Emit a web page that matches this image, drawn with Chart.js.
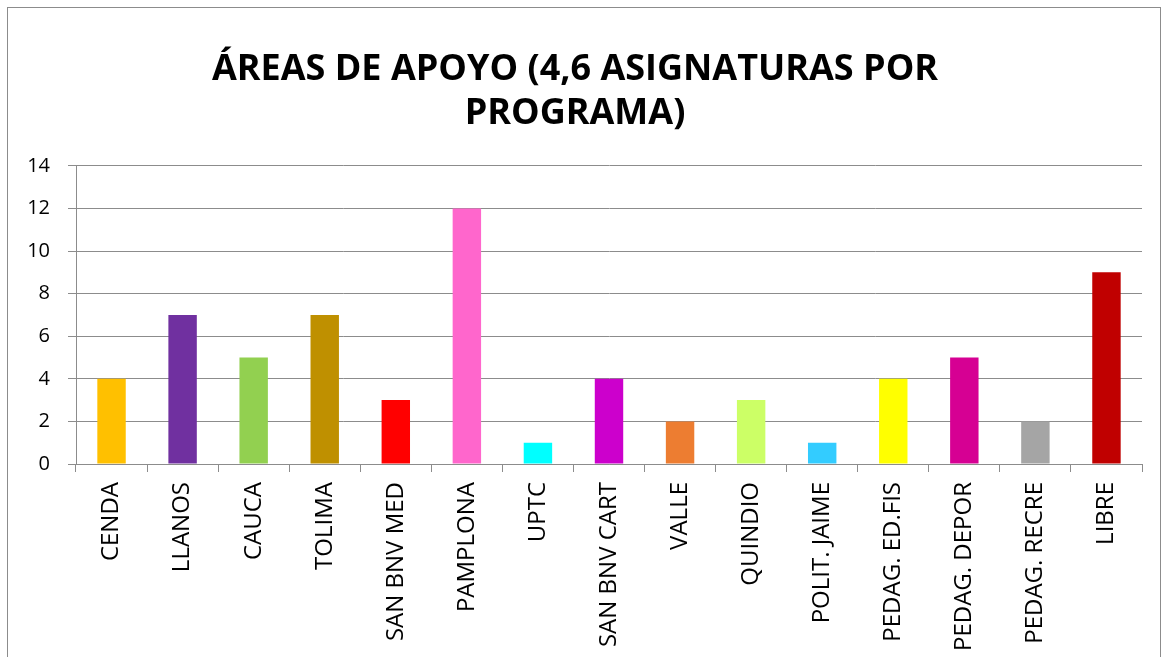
<!DOCTYPE html>
<html lang="es">
<head>
    <meta charset="UTF-8">
    <title>Áreas de apoyo</title>
    <script src="https://cdn.jsdelivr.net/npm/chart.js"></script>
    <style>
        html, body { margin: 0; padding: 0; background: #fff; overflow: hidden; }
        #frame {
            position: absolute; left: 7px; top: 7px;
            width: 1152px; height: 700px;
            border: 1px solid #8c8c8c;
        }
        #chart { display: block; }
    </style>
</head>
<body>
    <div id="frame">
        <canvas id="chart" width="1152" height="700"></canvas>
    </div>
    <script>
        // datos
        const programas = ['CENDA', 'LLANOS', 'CAUCA', 'TOLIMA', 'SAN BNV MED', 'PAMPLONA', 'UPTC',
            'SAN BNV CART', 'VALLE', 'QUINDIO', 'POLIT. JAIME', 'PEDAG. ED.FIS', 'PEDAG. DEPOR',
            'PEDAG. RECRE', 'LIBRE'];
        const asignaturas = [4, 7, 5, 7, 3, 12, 1, 4, 2, 3, 1, 4, 5, 2, 9];
        const colores = ['#FFC000', '#7030A0', '#92D050', '#BF9000', '#FF0000', '#FF66CC', '#00FFFF',
            '#CC00CC', '#ED7D31', '#CCFF66', '#33CCFF', '#FFFF00', '#D60093', '#A5A5A5', '#C00000'];
        const titulo = ['ÁREAS DE APOYO (4,6 ASIGNATURAS POR', 'PROGRAMA)'];

        const gris = '#8c8c8c';
        const ctx = document.getElementById('chart').getContext('2d');
        new Chart(ctx, {
            type: 'bar',
            data: {
                labels: programas,
                datasets: [{
                    data: asignaturas,
                    backgroundColor: colores,
                    borderWidth: 0,
                    categoryPercentage: 1,
                    barPercentage: 0.4
                }]
            },
            options: {
                responsive: false,
                animation: false,
                layout: { padding: { left: 0, right: 18, top: 0, bottom: 0 } },
                plugins: {
                    legend: { display: false },
                    tooltip: { enabled: false },
                    title: {
                        display: true,
                        text: titulo,
                        color: '#000',
                        font: { family: "'Open Sans', sans-serif", size: 36, weight: 'bold', lineHeight: 1.22 },
                        padding: { top: 40, bottom: 30 }
                    }
                },
                scales: {
                    x: {
                        afterFit: (s) => { s.height = 244; },
                        grid: { offset: true, drawOnChartArea: false, drawTicks: true, tickLength: 8, color: gris },
                        border: { color: gris },
                        ticks: {
                            color: '#000',
                            minRotation: 90, maxRotation: 90,
                            autoSkip: false,
                            padding: 10,
                            font: { family: "'Open Sans', sans-serif", size: 24 }
                        }
                    },
                    y: {
                        min: 0, max: 14,
                        afterFit: (s) => { s.width = 68; },
                        grid: { color: gris, tickLength: 8 },
                        border: { color: gris },
                        ticks: {
                            stepSize: 2,
                            color: '#000',
                            padding: 18,
                            font: { family: "'Open Sans', sans-serif", size: 20 }
                        }
                    }
                }
            }
        });
    </script>
</body>
</html>
